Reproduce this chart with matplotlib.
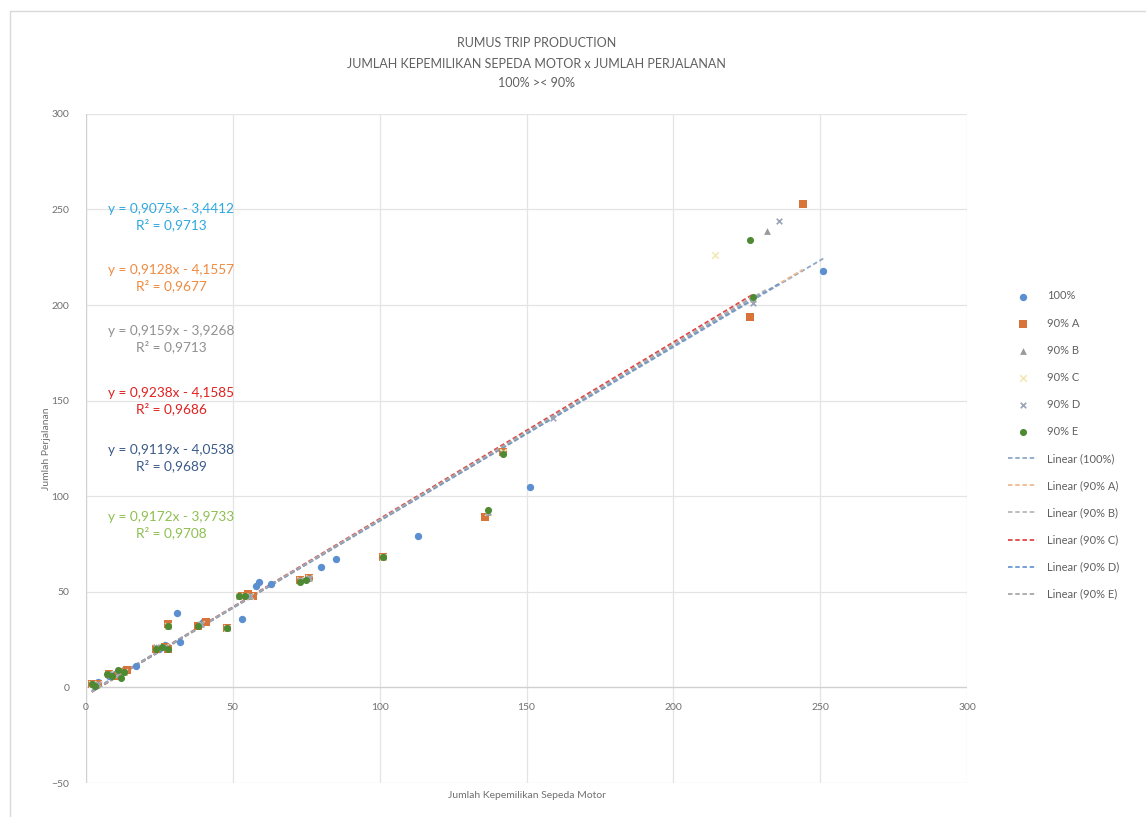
import numpy as np
import matplotlib
matplotlib.use('Agg')
import matplotlib.pyplot as plt
from matplotlib.patches import Rectangle

plt.rcParams['font.family'] = ['Lato', 'DejaVu Sans']

# data
x_100 = [2, 3, 4, 8, 10, 12, 13, 17, 25, 27, 31, 32, 40, 53, 55, 58, 59, 63, 80, 85, 113, 151, 251]
y_100 = [2, 1, 3, 6, 7, 8, 9, 11, 20, 22, 39, 24, 34, 36, 48, 53, 55, 54, 63, 67, 79, 105, 218]

x_a = [2, 4, 8, 11, 12, 14, 24, 27, 28, 28, 38, 41, 48, 53, 55, 57, 73, 76, 101, 136, 142, 226, 244]
y_a = [2, 2, 7, 6, 8, 9, 20, 21, 33, 20, 32, 34, 31, 48, 49, 48, 56, 57, 68, 89, 123, 194, 253]

x_b = [2, 4, 8, 11, 13, 24, 27, 28, 39, 48, 52, 56, 73, 76, 101, 137, 142, 227, 232]
y_b = [2, 2, 7, 7, 8, 21, 21, 32, 33, 31, 48, 48, 56, 57, 68, 92, 123, 203, 239]

x_c = [2, 4, 8, 11, 13, 24, 27, 28, 39, 48, 52, 56, 73, 76, 101, 137, 142, 214, 227]
y_c = [2, 2, 7, 7, 8, 21, 21, 32, 33, 31, 48, 48, 56, 57, 68, 92, 123, 226, 203]

x_d = [2, 4, 8, 11, 13, 24, 27, 28, 39, 48, 52, 56, 73, 76, 101, 137, 159, 227, 236]
y_d = [2, 2, 7, 7, 8, 21, 21, 32, 33, 31, 48, 48, 56, 57, 68, 92, 141, 201, 244]

x_e = [2, 3, 7, 9, 11, 12, 13, 24, 26, 28, 28, 38, 48, 52, 54, 73, 75, 101, 137, 142, 226, 227]
y_e = [2, 1, 7, 6, 9, 5, 8, 20, 21, 32, 20, 32, 31, 48, 48, 55, 56, 68, 93, 122, 234, 204]

series_names = ['100%', '90% A', '90% B', '90% C', '90% D', '90% E']
slopes = [0.9075, 0.9128, 0.9159, 0.9238, 0.9119, 0.9172]
intercepts = [-3.4412, -4.1557, -3.9268, -4.1585, -4.0538, -3.9733]
r2 = ['0,9713', '0,9677', '0,9713', '0,9686', '0,9689', '0,9708']
eq_y = [246, 214, 182, 150, 120, 85]

xs = [x_100, x_a, x_b, x_c, x_d, x_e]
ys = [y_100, y_a, y_b, y_c, y_d, y_e]
markers = ['o', 's', '^', 'x', 'x', 'o']
msizes = [28, 28, 24, 22, 16, 26]
mcolors = ['#5b8fd0', '#d8743a', '#9a9a9a', '#f3e7b5', '#9aa4b8', '#4e8a32']
line_colors = ['#8fa8c8', '#f0b98e', '#b8b8b8', '#e04848', '#6a9ad0', '#a8a8a8']
eq_colors = ['#2ea8e0', '#f08a40', '#909090', '#e02020', '#3a5a88', '#8fbf50']

fig = plt.figure(figsize=(11.46, 8.17), dpi=100)
ax = fig.add_axes([0.075, 0.0416, 0.769, 0.819])

for i in range(6):
    ax.scatter(xs[i], ys[i], marker=markers[i], s=msizes[i], color=mcolors[i],
               label=series_names[i], zorder=3, linewidths=1.2 if markers[i] == 'x' else 0)

for i in range(6):
    xx = np.array([min(xs[i]), max(xs[i])])
    ax.plot(xx, slopes[i] * xx + intercepts[i], ls=(0, (2.5, 1.5)), lw=1.3,
            color=line_colors[i], label='Linear (%s)' % series_names[i], zorder=2)

for i in range(6):
    txt = 'y = %sx - %s\nR² = %s' % (('%.4f' % slopes[i]).replace('.', ','),
                                     ('%.4f' % abs(intercepts[i])).replace('.', ','), r2[i])
    ax.text(29, eq_y[i], txt, ha='center', va='center', fontsize=9.8,
            color=eq_colors[i], linespacing=1.3, zorder=4)

ax.set_xlim(0, 300)
ax.set_ylim(-50, 300)
ax.set_xticks(range(0, 301, 50))
ax.set_yticks(range(-50, 301, 50))
ax.grid(True, color='#e4e4e4', lw=0.9, zorder=0)
ax.set_axisbelow(True)
for s in ax.spines.values():
    s.set_visible(False)
ax.axhline(0, color='#d0d0d0', lw=0.9, zorder=1)
ax.axvline(0, color='#d0d0d0', lw=0.9, zorder=1)
ax.tick_params(length=0, labelsize=7.5, colors='#707070')
ax.tick_params(axis='y', pad=12)

# x tick labels sit just under the zero line
ax.set_xticklabels([])
for v in range(0, 301, 50):
    ax.text(v, -8, str(v), ha='center', va='top', fontsize=7.5, color='#707070')

ax.set_xlabel('Jumlah Kepemilikan Sepeda Motor', fontsize=7.5, color='#707070', labelpad=2)
ax.set_ylabel('Jumlah Perjalanan', fontsize=7.5, color='#707070', labelpad=0)

fig.text(0.468, 0.947, 'RUMUS TRIP PRODUCTION', ha='center', va='center', fontsize=9, color='#606060')
fig.text(0.468, 0.922, 'JUMLAH KEPEMILIKAN SEPEDA MOTOR x JUMLAH PERJALANAN', ha='center', va='center',
         fontsize=9, color='#606060')
fig.text(0.468, 0.898, '100% >< 90%', ha='center', va='center', fontsize=9, color='#606060')

leg = ax.legend(loc='center left', bbox_to_anchor=(1.035, 0.505), frameon=False, fontsize=8,
                labelspacing=1.45, handlelength=2.6, handletextpad=0.9, labelcolor='#606060')

fig.patches.append(Rectangle((0.009, -0.01), 1.0, 0.996, transform=fig.transFigure,
                             fill=False, edgecolor='#d9d9d9', lw=1.0))

fig.savefig('out.png', dpi=100, facecolor='white')
